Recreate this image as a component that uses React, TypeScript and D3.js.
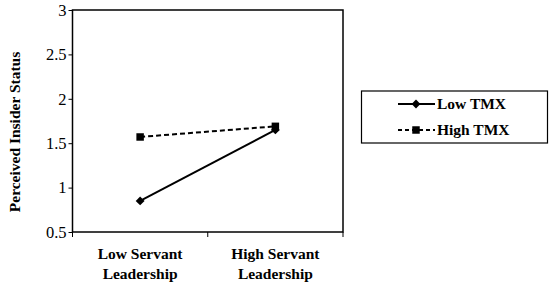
import React, { useEffect, useRef } from 'react';
import * as d3 from 'd3';

const categories = ['Low Servant Leadership', 'High Servant Leadership'];
const categoryLines = [['Low Servant', 'Leadership'], ['High Servant', 'Leadership']];
const lowTMX = [0.85, 1.65];
const highTMX = [1.57, 1.69];
const yTicks = [0.5, 1, 1.5, 2, 2.5, 3];
const seriesNames = ['Low TMX', 'High TMX'];

const App = () => {
  const ref = useRef<SVGSVGElement>(null);

  useEffect(() => {
    const svg = d3.select(ref.current);
    svg.selectAll('*').remove();

    const left = 72.5, right = 343, top = 10, bottom = 232;
    const font = '"Liberation Serif", "Times New Roman", serif';

    const x = d3.scaleBand().domain(categories).range([left, right]);
    const y = d3.scaleLinear().domain([0.5, 3]).range([bottom, top]);

    // frame
    svg.append('rect')
      .attr('x', left).attr('y', top)
      .attr('width', right - left).attr('height', bottom - top)
      .attr('fill', 'none').attr('stroke', '#000').attr('stroke-width', 1.5);

    // y axis
    const yAxis = d3.axisLeft(y).tickValues(yTicks).tickSize(4).tickFormat(d3.format('~g'));
    const gy = svg.append('g').attr('transform', `translate(${left},0)`).call(yAxis);
    gy.select('.domain').remove();
    gy.selectAll('line').attr('stroke', '#000');
    gy.selectAll('text')
      .attr('font-family', font).attr('font-size', 16.5).attr('fill', '#000').attr('x', -6);

    // x ticks at band boundaries
    const bounds = [left, (x(categories[1]) as number), right];
    svg.selectAll('.xtick').data(bounds).enter().append('line')
      .attr('x1', d => d).attr('x2', d => d)
      .attr('y1', bottom).attr('y2', bottom + 5)
      .attr('stroke', '#000').attr('stroke-width', 1);

    // x labels
    categories.forEach((c, i) => {
      const cx = (x(c) as number) + x.bandwidth() / 2;
      categoryLines[i].forEach((t, j) => {
        svg.append('text')
          .attr('x', cx).attr('y', 259 + j * 20)
          .attr('text-anchor', 'middle')
          .attr('font-family', font).attr('font-size', 15.5).attr('font-weight', 'bold')
          .text(t);
      });
    });

    // y title
    svg.append('text')
      .attr('transform', `translate(20,${(top + bottom) / 2 + 11}) rotate(-90)`)
      .attr('text-anchor', 'middle')
      .attr('font-family', font).attr('font-size', 15.5).attr('font-weight', 'bold')
      .text('Perceived Insider Status');

    const cxOf = (i: number) => (x(categories[i]) as number) + x.bandwidth() / 2;
    const line = d3.line<number>().x((_, i) => cxOf(i)).y(d => y(d));

    const diamond = d3.symbol().type(d3.symbolDiamond2).size(50);
    const square = d3.symbol().type(d3.symbolSquare).size(56);

    // High TMX
    svg.append('path').datum(highTMX).attr('d', line)
      .attr('fill', 'none').attr('stroke', '#000').attr('stroke-width', 2)
      .attr('stroke-dasharray', '5,3');
    svg.selectAll('.hi').data(highTMX).enter().append('path')
      .attr('d', square).attr('transform', (d, i) => `translate(${cxOf(i)},${y(d)})`);

    // Low TMX
    svg.append('path').datum(lowTMX).attr('d', line)
      .attr('fill', 'none').attr('stroke', '#000').attr('stroke-width', 2);
    svg.selectAll('.lo').data(lowTMX).enter().append('path')
      .attr('d', diamond).attr('transform', (d, i) => `translate(${cxOf(i)},${y(d)})`);

    // legend
    const lg = svg.append('g');
    lg.append('rect')
      .attr('x', 361.5).attr('y', 91).attr('width', 186).attr('height', 52)
      .attr('fill', 'none').attr('stroke', '#000').attr('stroke-width', 1.2);
    seriesNames.forEach((n, i) => {
      const ly = 104 + i * 26;
      lg.append('line')
        .attr('x1', 398).attr('x2', 435).attr('y1', ly).attr('y2', ly)
        .attr('stroke', '#000').attr('stroke-width', 2)
        .attr('stroke-dasharray', i === 1 ? '4,3' : null);
      lg.append('path')
        .attr('d', i === 0 ? diamond : square)
        .attr('transform', `translate(416,${ly})`);
      lg.append('text')
        .attr('x', 437).attr('y', ly + 5)
        .attr('font-family', font).attr('font-size', 15.5).attr('font-weight', 'bold')
        .text(n);
    });
  }, []);

  return (
    <svg ref={ref} width={550} height={287}
      style={{ position: 'absolute', left: 0, top: 0, background: '#fff' }} />
  );
};

export default App;
